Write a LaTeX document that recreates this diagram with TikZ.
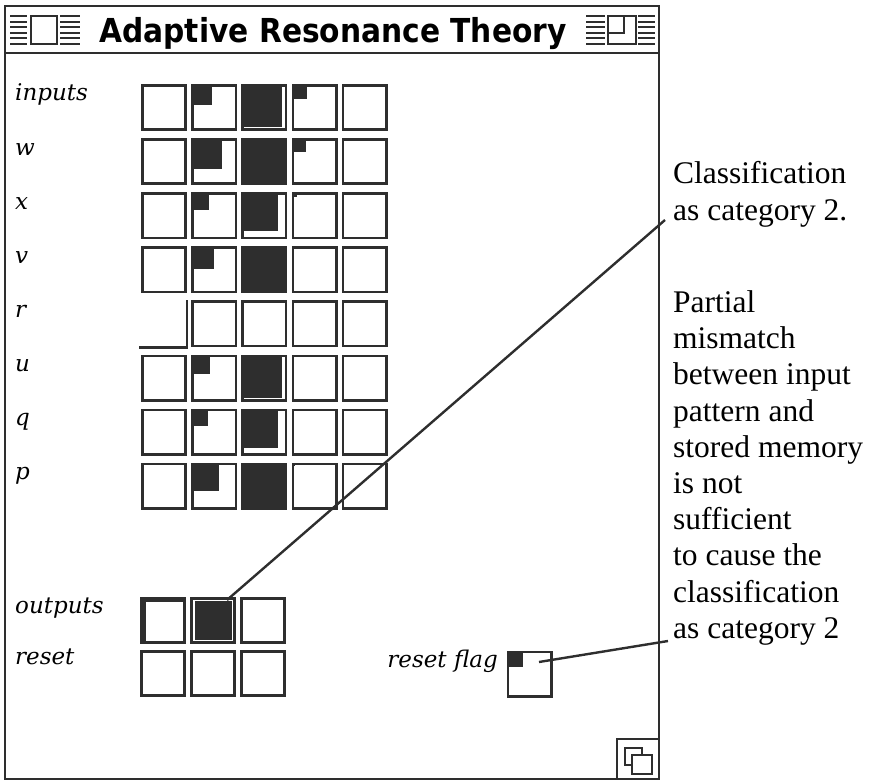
\documentclass[tikz,border=0pt]{standalone}
\usepackage{fontspec}
\setmainfont{Liberation Serif}
\newfontfamily\venice{DejaVu Serif}
\newfontfamily\chicago{DejaVu Sans}
\usetikzlibrary{positioning,calc}
\definecolor{ink}{HTML}{2E2E2E}
\tikzstyle{cell} = [draw=ink,line width=2.6pt,minimum width=43.4pt,minimum height=44.4pt,inner sep=0,anchor=north west]
\tikzstyle{slot} = [cell,draw=none]
\tikzstyle{lab} = [font=\venice\itshape\fontsize{23}{23}\selectfont,inner sep=0,anchor=base west]
\tikzstyle{wire} = [ink,line width=2.4pt]
\tikzstyle{stripe} = [ink,line width=1.9pt]
\tikzstyle{note} = [font=\fontsize{31.5}{36.2}\selectfont,align=left,inner sep=0,anchor=north west]
\def \dx {50.2}
\def \dy {54.1}

\begin{document}
\begin{tikzpicture}[x=1pt,y=-1pt]
  \useasboundingbox (0,0) rectangle (872,783);
  % window frame and title bar
  \draw[ink,line width=2.8pt] (5,6) rectangle (659,779);
  \draw[ink,line width=2.4pt] (5,53) -- (659,53);
  \foreach \s in {0,...,5} {
    \draw[stripe] (10,16+5.6*\s) -- (27,16+5.6*\s);
    \draw[stripe] (60,16+5.6*\s) -- (80,16+5.6*\s);
    \draw[stripe] (586,16+5.6*\s) -- (605,16+5.6*\s);
    \draw[stripe] (638,16+5.6*\s) -- (655,16+5.6*\s);
  }
  \draw[ink,line width=2pt] (31,16) rectangle (57,44);
  \draw[ink,line width=2pt] (608,16) rectangle (636,44);
  \draw[ink,line width=2pt] (608,33) -- (624,33) -- (624,16);
  \node[font=\chicago\bfseries\fontsize{33}{33}\selectfont,anchor=base,inner sep=0] (title) at (333,43)
    {\scalebox{0.9}[1]{Adaptive Resonance Theory}};
  \draw[ink,line width=2pt] (617,779) -- (617,739) -- (659,739);
  \draw[ink,line width=1.8pt] (625,748) rectangle (642,765);
  \filldraw[ink,line width=1.8pt,fill=white] (632,755) rectangle (652,774);
  % layers
  \foreach \nm/\lab/\i/\b/\c/\d in {in/inputs/0/21/41/15, w/w/1/31/45/14, x/x/2/18/37/5,
      v/v/3/23/45/0, r/r/4/0/0/0, u/u/5/19/41/0, q/q/6/17/37/0, p/p/7/28/45/3} {
    \pgfmathsetmacro\y{84+\dy*\i}
    \fill[ink] (141+\dx,\y) rectangle ++(\b,\b);
    \fill[ink] (141+2*\dx,\y) rectangle ++(\c,\c+2);
    \fill[ink] (141+3*\dx,\y) rectangle ++(\d,\d);
    \foreach \j in {1,...,5} {
      \ifnum\i\j=41
        \node[slot] (\nm-\j) at ({141+\dx*(\j-1)},\y) {};
        \draw[ink,line width=2.2pt] (\nm-\j.north east) -- (\nm-\j.south east) -- ([xshift=-2pt]\nm-\j.south west);
      \else
        \node[cell] (\nm-\j) at ({141+\dx*(\j-1)},\y) {};
      \fi
    }
    \node[lab] (\nm-lab) at (15,\y+17) {\lab};
  }
  % outputs and reset
  \fill[ink] (140,597) rectangle ++(46,4.5);
  \fill[ink] (140,597) rectangle ++(5.5,46);
  \fill[ink] (194.5,600.5) rectangle (231.5,640);
  \foreach \j in {1,2,3} {
    \node[cell] (out-\j) at ({140+50*(\j-1)},597) {};
    \node[cell] (rst-\j) at ({140+50*(\j-1)},650) {};
  }
  \node[lab] (out-lab) at (15,613) {outputs};
  \node[lab] (rst-lab) at (15,664) {reset};
  % reset flag
  \fill[ink] (507,651) rectangle ++(16,16);
  \node[cell,line width=2.2pt] (flag) at (507,651) {};
  \node[lab,anchor=base east] (flag-lab) at (498,667) {reset flag};
  % annotations
  \node[note] (cls-txt) at (673,161.5) {Classification\\as category 2.};
  \node[note] (mis-txt) at (673,290.5) {Partial\\mismatch\\between input\\pattern and\\stored memory\\is not\\sufficient\\to cause the\\classification\\as category 2};
  \coordinate (cls) at (665,220);
  \coordinate (mis) at (668,641);
  \draw[wire] ([xshift=-9pt,yshift=-3pt]out-2.north east) -- (cls);
  \draw[wire] ([xshift=32pt,yshift=-11pt]flag.north west) -- (mis);
\end{tikzpicture}
\end{document}
